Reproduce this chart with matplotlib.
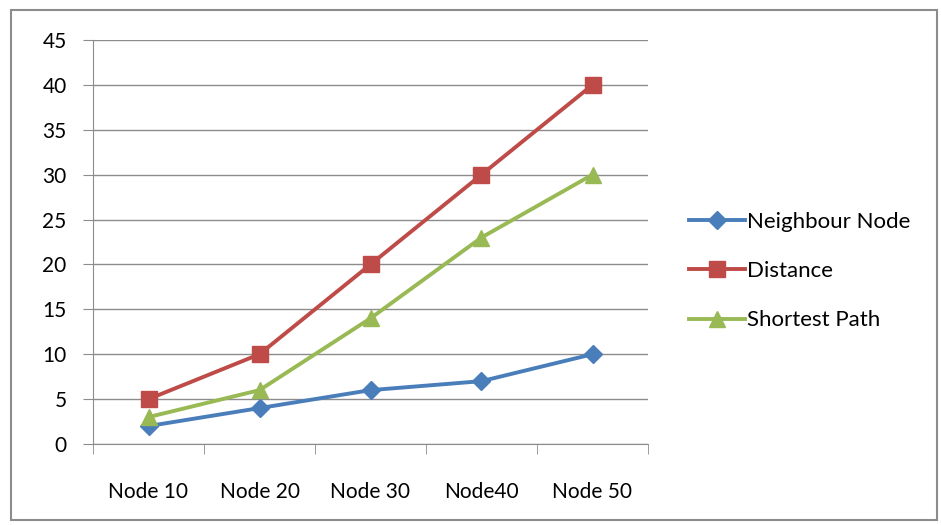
import matplotlib.pyplot as plt
from matplotlib.patches import Rectangle

categorias = ["Node 10", "Node 20", "Node 30", "Node40", "Node 50"]
neighbour = [2, 4, 6, 7, 10]
distance = [5, 10, 20, 30, 40]
shortest = [3, 6, 14, 23, 30]

plt.rcParams['font.family'] = ['Lato', 'DejaVu Sans']

fig = plt.figure(figsize=(9.41, 5.25), dpi=100)
ax = fig.add_axes([93/941, 1 - 444/525, 555/941, 404/525])

# moldura externa
fig.patches.append(Rectangle((11/941, 5/525), 926/941, 510/525, transform=fig.transFigure,
                             fill=False, edgecolor='#8c8c8c', linewidth=1.5))

x = list(range(len(categorias)))
ax.plot(x, neighbour, color='#4A7EBB', marker='D', markersize=9, linewidth=2.8, label="Neighbour Node")
ax.plot(x, distance, color='#BE4B48', marker='s', markersize=12, linewidth=2.8, label="Distance")
ax.plot(x, shortest, color='#98B954', marker='^', markersize=11, linewidth=2.8, label="Shortest Path")

ax.set_xlim(-0.5, len(categorias) - 0.5)
ax.set_ylim(0, 45)
ax.set_yticks(range(0, 46, 5))
ax.set_xticks(x)
ax.set_xticklabels(categorias)
ax.set_xticks([i - 0.5 for i in range(len(categorias) + 1)], minor=True)
ax.tick_params(axis='x', which='major', length=0, pad=27, labelsize=15)
ax.tick_params(axis='x', which='minor', length=7, color='#8c8c8c', direction='out')
ax.tick_params(axis='y', length=7, color='#8c8c8c', pad=12, labelsize=15)
ax.grid(axis='y', color='#8c8c8c', linewidth=1.0)
ax.set_axisbelow(True)
for s in ['top', 'right']:
    ax.spines[s].set_visible(False)
for s in ['left', 'bottom']:
    ax.spines[s].set_color('#8c8c8c')

ax.legend(loc='center left', bbox_to_anchor=(1.038, 0.428), frameon=False, fontsize=16,
          handlelength=2.5, handletextpad=0.1, labelspacing=1.32)

fig.savefig("out.png", dpi=100)
